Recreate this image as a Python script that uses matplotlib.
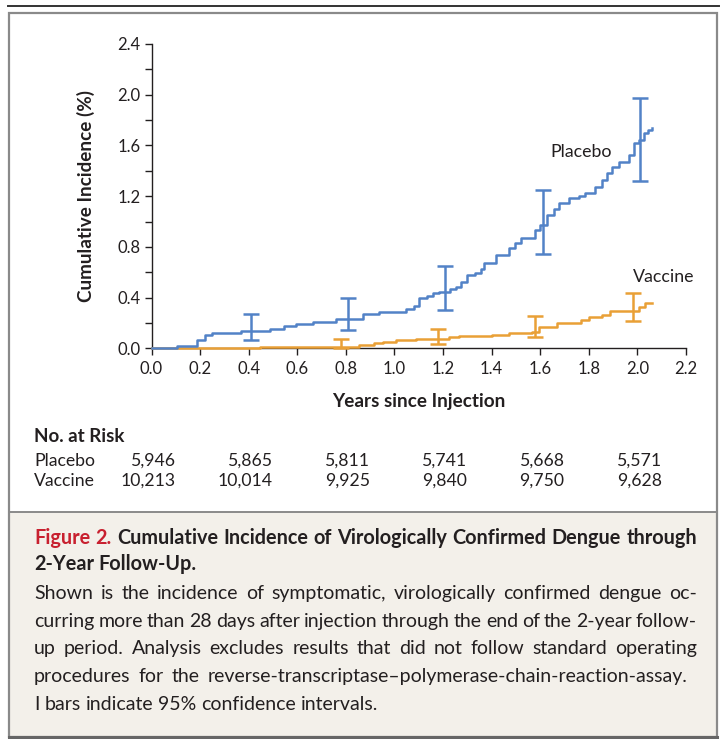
import matplotlib
matplotlib.use("Agg")
import matplotlib.pyplot as plt
import matplotlib.transforms as mtransforms
from matplotlib.patches import Rectangle
from matplotlib.lines import Line2D
from matplotlib.ticker import MultipleLocator, FormatStrFormatter

plt.rcParams['font.family'] = ['Lato', 'DejaVu Sans']

# step curves (time in years, cumulative incidence in %)
placebo_t = [0.000, 0.105, 0.187, 0.220, 0.250, 0.370, 0.486, 0.547, 0.595, 0.664,
             0.760, 0.870, 0.937, 1.047, 1.080, 1.100, 1.136, 1.157, 1.184, 1.230,
             1.255, 1.273, 1.300, 1.330, 1.355, 1.369, 1.417, 1.470, 1.495, 1.520,
             1.580, 1.600, 1.629, 1.655, 1.677, 1.718, 1.760, 1.786, 1.827, 1.855,
             1.875, 1.896, 1.923, 1.964, 1.985, 2.005, 2.026, 2.045, 2.060]
placebo_y = [0.000, 0.015, 0.065, 0.105, 0.118, 0.137, 0.152, 0.176, 0.192, 0.205,
             0.229, 0.268, 0.289, 0.308, 0.334, 0.395, 0.415, 0.434, 0.447, 0.466,
             0.486, 0.526, 0.578, 0.595, 0.623, 0.671, 0.736, 0.789, 0.830, 0.868,
             0.934, 0.973, 1.052, 1.100, 1.149, 1.184, 1.200, 1.223, 1.275, 1.328,
             1.380, 1.428, 1.473, 1.526, 1.618, 1.644, 1.697, 1.720, 1.736]

vaccine_t = [0.000, 0.350, 0.445, 0.855, 0.917, 0.951, 1.006, 1.088, 1.225, 1.266,
             1.403, 1.470, 1.567, 1.595, 1.670, 1.766, 1.800, 1.855, 1.889, 2.005,
             2.033, 2.060]
vaccine_y = [0.000, 0.005, 0.013, 0.026, 0.039, 0.052, 0.063, 0.071, 0.087, 0.097,
             0.107, 0.118, 0.131, 0.170, 0.197, 0.223, 0.249, 0.263, 0.297, 0.328,
             0.360, 0.360]

# 95% confidence intervals
placebo_ci_x = [0.41, 0.81, 1.21, 1.61, 2.01]
placebo_ci_lo = [0.065, 0.144, 0.302, 0.744, 1.32]
placebo_ci_hi = [0.27, 0.40, 0.652, 1.249, 1.973]
vaccine_ci_x = [0.78, 1.18, 1.58, 1.98]
vaccine_ci_lo = [0.0, 0.034, 0.092, 0.215]
vaccine_ci_hi = [0.07, 0.15, 0.255, 0.434]

# numbers at risk
risk_x = [0.0, 0.4, 0.8, 1.2, 1.6, 2.0]
risk_placebo = ["5,946", "5,865", "5,811", "5,741", "5,668", "5,571"]
risk_vaccine = ["10,213", "10,014", "9,925", "9,840", "9,750", "9,628"]

blue = "#5282c7"
orange = "#e9a036"
ink = "#231f20"
red = "#c8202f"

W, H = 721, 739
fig = plt.figure(figsize=(W / 100, H / 100), dpi=100)
fig.patch.set_facecolor("white")

def fx(px):
    return px / W

def fy(py):
    return 1 - py / H

# frame, caption background and rules
fig.add_artist(Rectangle((fx(9), fy(737)), fx(717) - fx(9), fy(512) - fy(737),
                         transform=fig.transFigure, facecolor="#f3f0ea", edgecolor="none"))
fig.add_artist(Rectangle((fx(9), fy(737)), fx(717) - fx(9), fy(13) - fy(737),
                         transform=fig.transFigure, facecolor="none", edgecolor="#8a8a8a", lw=1.6))
fig.add_artist(Line2D([fx(9), fx(717)], [fy(512), fy(512)], transform=fig.transFigure,
                      color="#8a8a8a", lw=1.4))
fig.add_artist(Line2D([fx(9), fx(717)], [fy(737), fy(737)], transform=fig.transFigure,
                      color="#666666", lw=2.2))
fig.add_artist(Line2D([fx(8), fx(719)], [fy(6), fy(6)], transform=fig.transFigure,
                      color="#333333", lw=1.4))

ax = fig.add_axes([fx(151.5), fy(348.3), fx(686) - fx(151.5), fy(44) - fy(348.3)])
ax.set_facecolor("none")
ax.set_xlim(0, 2.2)
ax.set_ylim(0, 2.4)

ax.plot(vaccine_t, vaccine_y, drawstyle="steps-post", color=orange, lw=1.8, clip_on=False, zorder=3)
ax.plot(placebo_t, placebo_y, drawstyle="steps-post", color=blue, lw=1.8, clip_on=False, zorder=3)

for xs, lo, hi, c in [(placebo_ci_x, placebo_ci_lo, placebo_ci_hi, blue),
                      (vaccine_ci_x, vaccine_ci_lo, vaccine_ci_hi, orange)]:
    mid = [(a + b) / 2 for a, b in zip(lo, hi)]
    err = [[m - a for m, a in zip(mid, lo)], [b - m for m, b in zip(mid, hi)]]
    ax.errorbar(xs, mid, yerr=err, fmt="none", ecolor=c, elinewidth=1.8,
                capsize=5.5, capthick=1.8, clip_on=False, zorder=4)

ax.text(1.77, 1.55, "Placebo", fontsize=12.8, color=ink, ha="center", va="center")
ax.text(2.11, 0.563, "Vaccine", fontsize=12.8, color=ink, ha="center", va="center")

for s in ["top", "right"]:
    ax.spines[s].set_visible(False)
for s in ["left", "bottom"]:
    ax.spines[s].set_color(ink)
    ax.spines[s].set_linewidth(1.0)

ax.xaxis.set_major_locator(MultipleLocator(0.2))
ax.yaxis.set_major_locator(MultipleLocator(0.4))
ax.yaxis.set_minor_locator(MultipleLocator(0.2))
ax.xaxis.set_major_formatter(FormatStrFormatter("%.1f"))
ax.yaxis.set_major_formatter(FormatStrFormatter("%.1f"))
ax.tick_params(axis="both", which="both", direction="out", length=5, width=1.0,
               color=ink, labelcolor=ink, labelsize=12)
ax.tick_params(axis="x", pad=4)
ax.tick_params(axis="y", pad=3)

ax.set_xlabel("Years since Injection", fontsize=13.6, fontweight="bold", color=ink, labelpad=12)
ax.set_ylabel("Cumulative Incidence (%)", fontsize=13.6, fontweight="bold", color=ink, labelpad=16)

# numbers at risk table
fig.text(fx(34), fy(437), "No. at Risk", fontsize=13.5, fontweight="bold", color=ink,
         ha="left", va="center")
fig.text(fx(34), fy(461), "Placebo", fontsize=12.7, color=ink, ha="left", va="center")
fig.text(fx(34), fy(481), "Vaccine", fontsize=12.7, color=ink, ha="left", va="center")
tr = mtransforms.blended_transform_factory(ax.transData, fig.transFigure)
for x, p, v in zip(risk_x, risk_placebo, risk_vaccine):
    fig.text(x + 0.1, fy(461), p, transform=tr, fontsize=12.7, color=ink, ha="right", va="center")
    fig.text(x + 0.1, fy(481), v, transform=tr, fontsize=12.7, color=ink, ha="right", va="center")

# caption, justified between x=34 and x=697 like the journal layout
renderer = fig.canvas.get_renderer()
left, right = 34, 697

def space_width(size, weight):
    a = fig.text(0, 0, "a a", fontsize=size, fontweight=weight)
    b = fig.text(0, 0, "aa", fontsize=size, fontweight=weight)
    w = a.get_window_extent(renderer).width - b.get_window_extent(renderer).width
    a.remove()
    b.remove()
    return w

def put_line(words, ypx, size, justify=True):
    # words: list of (text, color, weight)
    arts = []
    for w, c, wt in words:
        t = fig.text(0, fy(ypx), w, fontsize=size, fontweight=wt, color=c,
                     ha="left", va="baseline")
        arts.append(t)
    widths = [a.get_window_extent(renderer).width for a in arts]
    sp = space_width(size, words[-1][2])
    gap = sp
    if justify and len(arts) > 1:
        gap = (right - left - sum(widths)) / (len(arts) - 1)
        gap = min(max(gap, 0.7 * sp), 1.6 * sp)
    x = left
    for a, wd in zip(arts, widths):
        a.set_x(fx(x))
        x += wd + gap

title_size = 14.3
body_size = 14.0
title1 = [("Figure", red, "bold"), ("2.", red, "bold")] + \
    [(w, ink, "bold") for w in "Cumulative Incidence of Virologically Confirmed Dengue through".split()]
put_line(title1, 544, title_size)
put_line([(w, ink, "bold") for w in "2-Year Follow-Up.".split()], 570, title_size, justify=False)

body = ["Shown is the incidence of symptomatic, virologically confirmed dengue oc-",
        "curring more than 28 days after injection through the end of the 2-year follow-",
        "up period. Analysis excludes results that did not follow standard operating",
        "procedures for the reverse-transcriptase\u2013polymerase-chain-reaction-assay.",
        "I bars indicate 95% confidence intervals."]
for i, line in enumerate(body):
    put_line([(w, ink, "normal") for w in line.split()], 599 + i * 27.7, body_size,
             justify=(i < len(body) - 1))

fig.savefig("out.png", dpi=100)
